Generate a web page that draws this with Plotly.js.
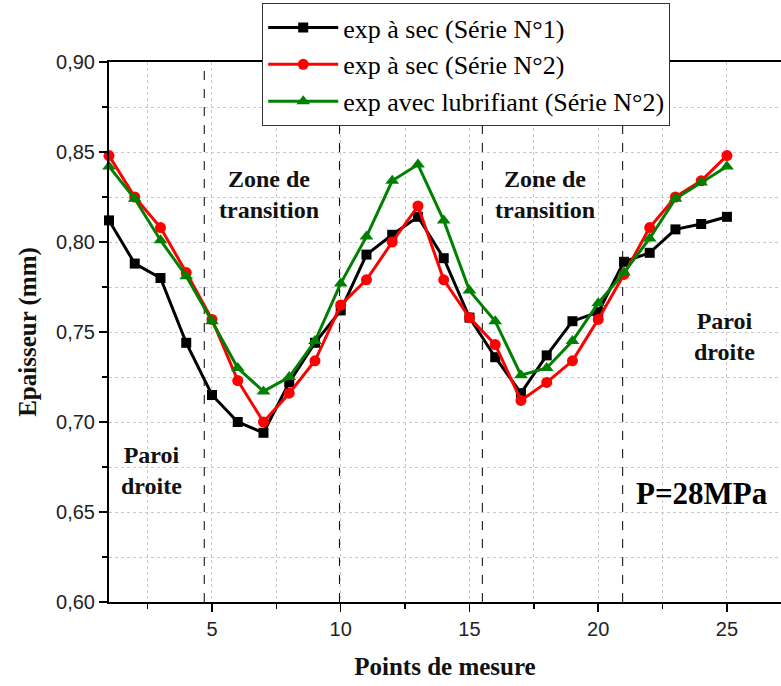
<!DOCTYPE html>
<html>
<head>
<meta charset="utf-8">
<script src="https://cdn.plot.ly/plotly-3.0.1.min.js"></script>
<style>html,body{margin:0;padding:0;background:#fff;}#chart{width:781px;height:686px;}</style>
</head>
<body>
<div id="chart"></div>
<script>
// ---- data ----
const points = [1,2,3,4,5,6,7,8,9,10,11,12,13,14,15,16,17,18,19,20,21,22,23,24,25];
const serie1Sec = [0.812,0.788,0.780,0.744,0.715,0.700,0.694,0.722,0.744,0.762,0.793,0.804,0.814,0.791,0.758,0.736,0.716,0.737,0.756,0.761,0.789,0.794,0.807,0.810,0.814];
const serie2Sec = [0.848,0.825,0.808,0.783,0.757,0.723,0.700,0.716,0.734,0.765,0.779,0.800,0.820,0.779,0.758,0.743,0.712,0.722,0.734,0.757,0.782,0.808,0.825,0.834,0.848];
const serie2Lub = [0.842,0.824,0.801,0.781,0.756,0.730,0.717,0.725,0.745,0.777,0.803,0.834,0.843,0.812,0.773,0.756,0.726,0.730,0.745,0.766,0.783,0.802,0.824,0.833,0.842];
const seriesNames = ["exp à sec (Série N°1)", "exp à sec (Série N°2)", "exp avec lubrifiant (Série N°2)"];
const zoneBounds = [4.7, 9.95, 15.5, 20.95];
const xTickVals = [5,10,15,20,25];
const yTickVals = [0.60,0.65,0.70,0.75,0.80,0.85,0.90];

const serif = "Liberation Serif";
const sans = "Liberation Sans";

const traces = [
  {x: points, y: serie1Sec, name: seriesNames[0], type: "scatter", mode: "lines+markers",
   line: {color: "#000000", width: 3}, marker: {symbol: "square", size: 10, color: "#000000"}, cliponaxis: false},
  {x: points, y: serie2Sec, name: seriesNames[1], type: "scatter", mode: "lines+markers",
   line: {color: "#ff0000", width: 3}, marker: {symbol: "circle", size: 11, color: "#ff0000"}, cliponaxis: false},
  {x: points, y: serie2Lub, name: seriesNames[2], type: "scatter", mode: "lines+markers",
   line: {color: "#008000", width: 3}, marker: {symbol: "triangle-up", size: 12, color: "#008000"}, cliponaxis: false}
];

const shapes = zoneBounds.map(v => ({
  type: "line", xref: "x", yref: "paper", x0: v, x1: v, y0: 0, y1: 1,
  line: {color: "#000000", width: 1, dash: "dash"}, layer: "below"
}));

const annFont = {family: serif, size: 24, color: "#111111"};
const annotations = [
  {x: 2.65, y: 0.673, xref: "x", yref: "y", text: "<b>Paroi<br>droite</b>", showarrow: false, font: annFont},
  {x: 7.2, y: 0.8265, xref: "x", yref: "y", text: "<b>Zone de<br>transition</b>", showarrow: false, font: annFont},
  {x: 17.95, y: 0.8265, xref: "x", yref: "y", text: "<b>Zone de<br>transition</b>", showarrow: false, font: annFont},
  {x: 24.9, y: 0.7475, xref: "x", yref: "y", text: "<b>Paroi<br>droite</b>", showarrow: false, font: annFont},
  {x: 24.05, y: 0.6605, xref: "x", yref: "y", text: "<b>P=28MPa</b>", showarrow: false,
   font: {family: serif, size: 31, color: "#000000"}}
];

const layout = {
  width: 781, height: 686,
  margin: {l: 109, r: 0, t: 62, b: 84, pad: 0},
  paper_bgcolor: "#ffffff", plot_bgcolor: "#ffffff",
  font: {family: serif, color: "#000000"},
  separators: ",.",
  showlegend: true,
  legend: {
    x: 0.228, y: 1.109, xanchor: "left", yanchor: "top",
    bgcolor: "#ffffff", bordercolor: "#333333", borderwidth: 1,
    font: {family: serif, size: 26, color: "#000000"},
    itemwidth: 70, tracegroupgap: 0
  },
  xaxis: {
    range: [1, 27.1], tickvals: xTickVals, ticks: "outside", ticklen: 8, tickwidth: 1.5, tickcolor: "#000",
    showline: true, linecolor: "#000000", linewidth: 2, mirror: true, zeroline: false,
    showgrid: false,
    tickfont: {family: sans, size: 20, color: "#222222"},
    minor: {tick0: 0, dtick: 2.5, ticks: "outside", ticklen: 5, tickcolor: "#000", showgrid: true,
            gridcolor: "#c8c8c8", griddash: "dot", gridwidth: 1},
    title: {text: "<b>Points de mesure</b>", font: {family: serif, size: 25, color: "#111111"}, standoff: 18}
  },
  yaxis: {
    range: [0.60, 0.90], tickvals: yTickVals, tickformat: ".2f", ticks: "outside", ticklen: 8, tickwidth: 1.5, tickcolor: "#000",
    showline: true, linecolor: "#000000", linewidth: 2, mirror: false, zeroline: false,
    showgrid: false,
    tickfont: {family: sans, size: 20, color: "#222222"},
    minor: {tick0: 0, dtick: 0.025, ticks: "outside", ticklen: 5, tickcolor: "#000", showgrid: true,
            gridcolor: "#c8c8c8", griddash: "dot", gridwidth: 1},
    title: {text: "<b>Epaisseur (mm)</b>", font: {family: serif, size: 25, color: "#111111"}, standoff: 12}
  },
  shapes: shapes,
  annotations: annotations
};

Plotly.newPlot("chart", traces, layout, {displayModeBar: false, staticPlot: true});
</script>
</body>
</html>
